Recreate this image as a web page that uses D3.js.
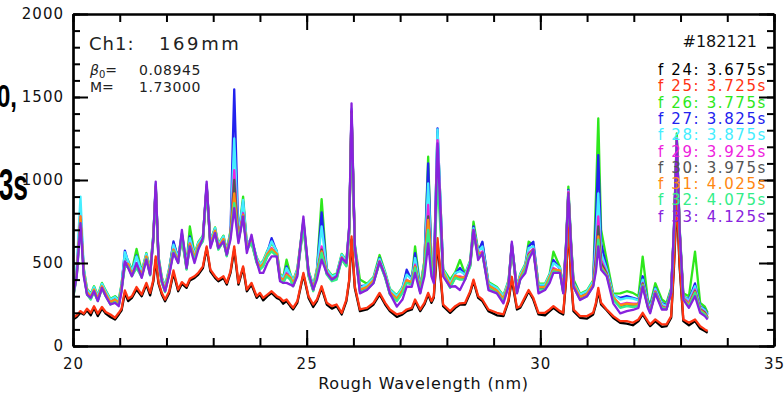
<!DOCTYPE html>
<html>
<head>
<meta charset="utf-8">
<script src="https://cdn.jsdelivr.net/npm/d3@7"></script>
<style>
  body { margin: 0; background: #ffffff; }
  svg { display: block; }
</style>
</head>
<body>
<svg id="chart" width="784" height="394"></svg>
<script>
// wavelength grid (nm), shared by every frame
var wavelength = [
  20.00,20.08,20.16,20.23,20.30,20.38,20.45,20.53,20.62,20.70,
  20.80,20.90,20.98,21.04,21.11,21.18,21.26,21.36,21.47,21.57,
  21.65,21.72,21.77,21.83,21.90,21.97,22.06,22.15,22.25,22.33,
  22.43,22.50,22.60,22.68,22.78,22.86,22.94,23.04,23.11,23.22,
  23.29,23.37,23.45,23.54,23.64,23.72,23.82,23.93,24.00,24.07,
  24.16,24.25,24.36,24.43,24.50,24.57,24.65,24.71,24.80,24.93,
  25.04,25.14,25.22,25.32,25.43,25.54,25.64,25.75,25.85,25.91,
  25.96,26.03,26.14,26.29,26.43,26.56,26.68,26.78,26.93,27.05,
  27.14,27.25,27.32,27.43,27.52,27.60,27.67,27.72,27.80,27.92,
  28.07,28.18,28.28,28.39,28.50,28.57,28.67,28.76,28.89,29.07,
  29.21,29.32,29.39,29.50,29.57,29.68,29.75,29.85,29.96,30.10,
  30.20,30.28,30.42,30.49,30.55,30.60,30.66,30.71,30.85,31.00,
  31.13,31.19,31.24,31.30,31.42,31.56,31.71,31.85,31.98,32.10,
  32.19,32.30,32.35,32.46,32.60,32.70,32.80,32.86,32.92,32.98,
  33.06,33.18,33.31,33.42,33.52,33.58
];

var f24 = [
  160,175,200,190,215,185,230,180,225,195, 175,160,190,215,320,270,290,340,300,370,
  305,390,520,375,310,270,320,440,330,375, 350,395,410,430,470,590,450,410,390,410,
  370,440,580,370,470,330,370,290,310,275, 300,320,290,280,255,270,240,220,260,430,
  290,235,270,350,250,225,240,190,270,390, 640,350,210,220,250,310,250,210,175,190,
  210,220,270,210,250,310,260,290,620,240, 200,230,250,250,320,390,290,270,210,185,
  180,270,400,220,230,290,330,280,190,185, 210,230,200,190,390,740,390,210,170,165,
  190,250,330,250,215,170,140,135,125,150, 190,140,120,150,115,120,170,480,870,480,
  150,125,150,105,90,80
];
var f25 = [
  170,185,210,195,225,200,240,195,235,205, 190,170,200,225,335,285,300,355,310,380,
  320,400,540,385,320,280,330,455,340,385, 360,405,420,440,480,600,460,420,400,420,
  380,450,600,380,480,340,380,300,320,290, 310,330,300,290,270,280,250,230,270,440,
  300,250,280,360,260,240,250,200,280,400, 660,360,220,230,260,320,260,220,190,200,
  220,230,280,220,260,320,270,300,650,250, 210,240,257,260,330,400,300,280,220,200,
  190,280,417,230,240,300,337,290,200,200, 220,240,210,200,400,760,400,220,180,180,
  200,260,350,260,220,180,150,150,140,160, 200,150,130,160,130,130,180,500,900,500,
  160,140,160,120,100,90
];
var f26 = [
  315,455,760,465,345,315,360,305,380,335, 285,300,280,375,545,515,455,585,450,560,
  460,675,960,540,415,360,470,620,535,680, 495,720,555,625,665,960,635,715,615,665,
  575,695,880,665,900,615,640,535,495,515, 575,620,575,435,415,520,435,395,465,760,
  455,365,465,885,465,425,435,555,515,715, 1400,615,400,375,415,548,445,345,305,355,
  440,405,600,355,515,1140,515,435,1290,465, 400,445,518,435,515,749,575,620,385,355,
  305,395,610,355,435,495,628,610,375,375, 435,568,475,355,615,960,615,400,315,335,
  395,900,1371,700,518,315,317,330,320,300, 538,280,250,378,280,260,350,715,1281,715,
  317,300,568,260,237,200
];
var f27 = [
  305,445,820,455,335,305,350,295,370,325, 275,290,270,365,575,505,445,545,440,550,
  450,665,970,530,405,350,460,630,525,670, 485,660,545,615,655,970,625,705,605,655,
  565,685,1546,655,870,605,650,525,485,505, 565,650,565,425,405,480,425,385,455,750,
  445,355,455,805,455,415,425,545,505,705, 1420,605,360,365,405,530,435,335,295,345,
  460,395,560,345,505,1100,505,425,1311,455, 375,435,470,425,505,720,565,628,375,345,
  295,385,615,345,425,485,600,628,365,365, 425,518,465,345,605,940,605,385,305,325,
  385,760,1150,620,470,305,290,300,290,280, 420,265,235,350,260,245,340,705,1250,705,
  300,280,377,240,220,190
];
var f28 = [
  310,480,900,470,340,310,355,300,375,330, 280,295,275,370,565,510,450,540,445,555,
  455,670,980,535,410,355,465,610,530,675, 490,650,550,620,660,975,630,710,610,660,
  570,690,1250,660,880,610,645,530,490,510, 570,630,570,430,410,470,430,390,460,745,
  450,360,460,720,460,420,430,550,510,710, 1430,610,350,370,410,525,440,340,300,350,
  430,400,530,350,510,980,510,430,1305,460, 380,440,450,430,510,710,570,600,380,350,
  300,390,610,350,430,490,590,600,370,370, 430,500,470,350,610,935,610,380,310,330,
  390,640,920,560,460,310,280,290,285,275, 400,260,230,345,255,240,338,710,1255,710,
  300,275,360,235,215,185
];
var f29 = [
  290,430,780,440,320,290,335,280,355,310, 260,275,255,350,505,490,430,485,425,535,
  435,650,960,515,390,335,445,580,510,660, 470,620,530,600,640,960,610,690,590,640,
  550,670,1060,640,800,590,630,510,470,490, 550,590,550,410,390,440,410,370,440,740,
  430,340,440,600,440,400,410,530,490,690, 1420,590,335,350,390,510,420,320,280,330,
  400,380,490,330,490,850,490,410,1240,440, 360,420,420,410,490,700,550,570,360,330,
  280,370,605,330,410,470,560,585,350,350, 410,470,450,330,590,930,590,365,290,310,
  370,560,780,520,440,290,250,260,255,255, 380,245,215,330,240,230,330,690,1245,690,
  290,260,340,225,205,175
];
var f30 = [
  285,425,760,435,315,285,330,275,350,305, 255,270,250,345,495,485,425,480,420,530,
  430,645,950,510,385,330,440,575,505,655, 465,610,525,595,635,955,605,685,585,635,
  545,665,1000,635,790,585,625,505,465,485, 545,580,545,405,385,430,405,365,435,730,
  425,335,435,580,435,395,405,525,485,685, 1410,585,330,345,385,505,415,315,275,325,
  390,375,480,325,485,780,485,405,1160,435, 355,415,410,405,485,690,545,560,355,325,
  275,365,600,325,405,465,550,580,345,345, 405,460,445,325,585,920,585,360,285,305,
  365,520,720,500,435,285,240,250,245,250, 375,240,210,325,235,225,325,685,1240,685,
  285,250,330,220,200,170
];
var f31 = [
  295,435,780,445,325,295,340,285,360,315, 265,280,260,355,485,495,435,490,430,540,
  440,655,960,520,395,340,450,580,515,660, 475,615,535,605,645,960,615,695,595,645,
  555,675,920,645,790,595,630,515,475,495, 555,585,555,415,395,430,415,375,445,735,
  435,345,445,570,445,405,415,535,495,695, 1400,595,340,355,395,510,425,325,285,335,
  395,385,480,335,495,760,495,415,1100,445, 365,425,410,415,495,690,555,560,365,335,
  285,375,600,335,415,475,545,580,355,355, 415,460,455,335,595,920,595,370,295,315,
  375,490,660,480,430,295,245,255,250,250, 370,240,210,325,235,225,325,695,1240,695,
  285,250,325,218,195,168
];
var f32 = [
  280,420,740,430,310,280,325,270,345,300, 250,265,245,340,475,480,420,470,415,525,
  425,640,950,505,380,325,435,570,500,650, 460,600,520,590,630,950,600,680,580,630,
  540,660,860,630,780,580,620,500,460,480, 540,570,540,400,380,420,400,360,430,720,
  420,330,430,560,430,390,400,520,480,680, 1390,580,325,340,380,500,410,310,270,320,
  380,370,470,320,480,700,480,400,1000,430, 350,410,400,400,480,680,540,550,350,320,
  270,360,595,320,400,460,540,575,340,340, 400,450,440,320,580,915,580,355,280,300,
  360,470,640,470,425,280,230,240,235,240, 365,235,205,320,230,222,322,680,1235,680,
  282,240,320,210,190,165
];
var f33 = [
  300,420,740,420,310,290,330,270,350,300, 250,260,240,330,510,470,420,500,410,520,
  430,650,990,520,390,330,430,560,500,700, 470,600,500,580,650,990,590,680,590,630,
  550,640,830,620,780,560,670,510,440,440, 500,540,540,390,380,380,370,360,420,780,
  440,340,400,520,440,400,420,530,500,720, 1462,600,317,337,378,508,420,317,237,280,
  357,357,440,317,420,618,420,378,1221,420, 357,360,337,400,500,699,518,560,337,317,
  257,360,628,317,400,440,518,580,317,337, 380,440,440,317,600,920,590,357,277,300,
  357,450,600,460,420,257,197,210,217,230, 357,230,197,317,220,220,320,720,1241,700,
  280,230,300,200,180,160
];

var frameNums = [24, 25, 26, 27, 28, 29, 30, 31, 32, 33];
var frameTimes = [3.675, 3.725, 3.775, 3.825, 3.875, 3.925, 3.975, 4.025, 4.075, 4.125];
var frameColors = ["#000000", "#ff3311", "#2ee81c", "#2222ee", "#44eeff",
                   "#ee22dd", "#555555", "#ff8811", "#33ee88", "#8822dd"];

var xMajor = [20, 25, 30, 35];
var xMinor = d3.range(20, 35.5, 1);
var yMajor = [0, 500, 1000, 1500, 2000];
var yMinor = d3.range(0, 2001, 100);

(function () {
  var svg = d3.select("#chart");
  var box = { left: 73, right: 774, top: 14, bottom: 346 };

  var x = d3.scaleLinear().domain([20, 35]).range([box.left, box.right]);
  var y = d3.scaleLinear().domain([0, 2000]).range([box.bottom, box.top]);

  var frames = [f24, f25, f26, f27, f28, f29, f30, f31, f32, f33].map(function (vals, i) {
    return {
      num: frameNums[i],
      time: frameTimes[i],
      color: frameColors[i],
      values: vals.map(function (v, j) { return { w: wavelength[j], v: v }; })
    };
  });

  // clipped pieces of the neighbouring slide text (squeezed bold title)
  svg.append("text").attr("transform", "translate(17,107) scale(0.75,1)")
    .attr("text-anchor", "end")
    .attr("font-family", "Liberation Sans, Arial, sans-serif").attr("font-weight", "bold")
    .attr("font-size", 32).text("0,");
  svg.append("text").attr("transform", "translate(28,200) scale(0.6,1)")
    .attr("text-anchor", "end")
    .attr("font-family", "Liberation Sans, Arial, sans-serif").attr("font-weight", "bold")
    .attr("font-size", 44).text("3s");

  svg.append("defs").append("clipPath").attr("id", "plot-clip")
    .append("rect")
    .attr("x", box.left).attr("y", box.top)
    .attr("width", box.right - box.left).attr("height", box.bottom - box.top);

  var line = d3.line()
    .x(function (d) { return x(d.w); })
    .y(function (d) { return y(d.v); });

  svg.append("g").attr("clip-path", "url(#plot-clip)")
    .selectAll("path").data(frames).enter()
    .append("path")
    .attr("d", function (d) { return line(d.values); })
    .attr("fill", "none")
    .attr("stroke", function (d) { return d.color; })
    .attr("stroke-width", 2.3)
    .attr("stroke-linejoin", "round");

  // axes, IDL style: ticks inside on all four sides
  function styleAxis(g) {
    g.attr("font-size", null).attr("font-family", null);
    g.selectAll(".domain").attr("stroke", "#000").attr("stroke-width", 2.2);
    g.selectAll(".tick line").attr("stroke", "#000").attr("stroke-width", 2);
    g.selectAll(".tick text").attr("fill", "#111")
      .style("font-family", "DejaVu Sans, sans-serif").style("font-size", "15px")
      .attr("letter-spacing", 1);
  }

  function addAxis(axis, tx, ty) {
    svg.append("g").attr("transform", "translate(" + tx + "," + ty + ")")
      .call(axis).call(styleAxis);
  }

  addAxis(d3.axisBottom(x).tickValues(xMinor).tickSize(-8).tickSizeOuter(0).tickFormat(""), 0, box.bottom);
  addAxis(d3.axisBottom(x).tickValues(xMajor).tickSize(-16).tickSizeOuter(0)
    .tickPadding(12).tickFormat(d3.format("d")), 0, box.bottom);
  addAxis(d3.axisTop(x).tickValues(xMinor).tickSize(-8).tickSizeOuter(0).tickFormat(""), 0, box.top);
  addAxis(d3.axisTop(x).tickValues(xMajor).tickSize(-16).tickSizeOuter(0).tickFormat(""), 0, box.top);
  addAxis(d3.axisLeft(y).tickValues(yMinor).tickSize(-7).tickSizeOuter(0).tickFormat(""), box.left, 0);
  addAxis(d3.axisLeft(y).tickValues(yMajor).tickSize(-15).tickSizeOuter(0)
    .tickPadding(9).tickFormat(d3.format("d")), box.left, 0);
  addAxis(d3.axisRight(y).tickValues(yMinor).tickSize(-7).tickSizeOuter(0).tickFormat(""), box.right, 0);
  addAxis(d3.axisRight(y).tickValues(yMajor).tickSize(-15).tickSizeOuter(0).tickFormat(""), box.right, 0);

  svg.append("text")
    .attr("x", (box.left + box.right) / 2).attr("y", 389)
    .attr("text-anchor", "middle")
    .attr("font-family", "DejaVu Sans, sans-serif").attr("font-size", 16)
    .attr("letter-spacing", 0.8).attr("fill", "#111")
    .text("Rough Wavelength (nm)");

  // annotations in the upper left
  var ann = svg.append("g").attr("font-family", "DejaVu Sans, sans-serif").attr("fill", "#222");
  ann.append("text").attr("x", 89).attr("y", 50).attr("font-size", 18).attr("letter-spacing", 1)
    .text("Ch1:");
  ann.append("text").attr("x", 159).attr("y", 50).attr("font-size", 18).attr("letter-spacing", 2.6)
    .text("169mm");
  var beta = ann.append("text").attr("x", 90).attr("y", 75).attr("font-size", 14);
  beta.append("tspan").attr("font-style", "italic").text("β");
  beta.append("tspan").attr("font-size", 10).attr("dy", 3).text("0");
  beta.append("tspan").attr("dy", -3).text("=");
  ann.append("text").attr("x", 139).attr("y", 75).attr("font-size", 14).attr("letter-spacing", 0.6)
    .text("0.08945");
  ann.append("text").attr("x", 90).attr("y", 92).attr("font-size", 14).text("M=");
  ann.append("text").attr("x", 139).attr("y", 92).attr("font-size", 14).attr("letter-spacing", 0.6)
    .text("1.73000");

  // shot number and frame legend on the right
  svg.append("text").attr("x", 757).attr("y", 47).attr("text-anchor", "end")
    .attr("font-family", "DejaVu Sans, sans-serif").attr("font-size", 16).attr("fill", "#111")
    .text("#182121");

  svg.append("g").selectAll("text").data(frames).enter()
    .append("text")
    .attr("x", 767).attr("y", function (d, i) { return 75 + i * 16.3; })
    .attr("text-anchor", "end")
    .attr("font-family", "DejaVu Sans, sans-serif").attr("font-size", 15)
    .attr("letter-spacing", 1.6)
    .attr("fill", function (d) { return d.color; })
    .text(function (d) { return "f " + d.num + ": " + d.time.toFixed(3) + "s"; });
})();
</script>
</body>
</html>
